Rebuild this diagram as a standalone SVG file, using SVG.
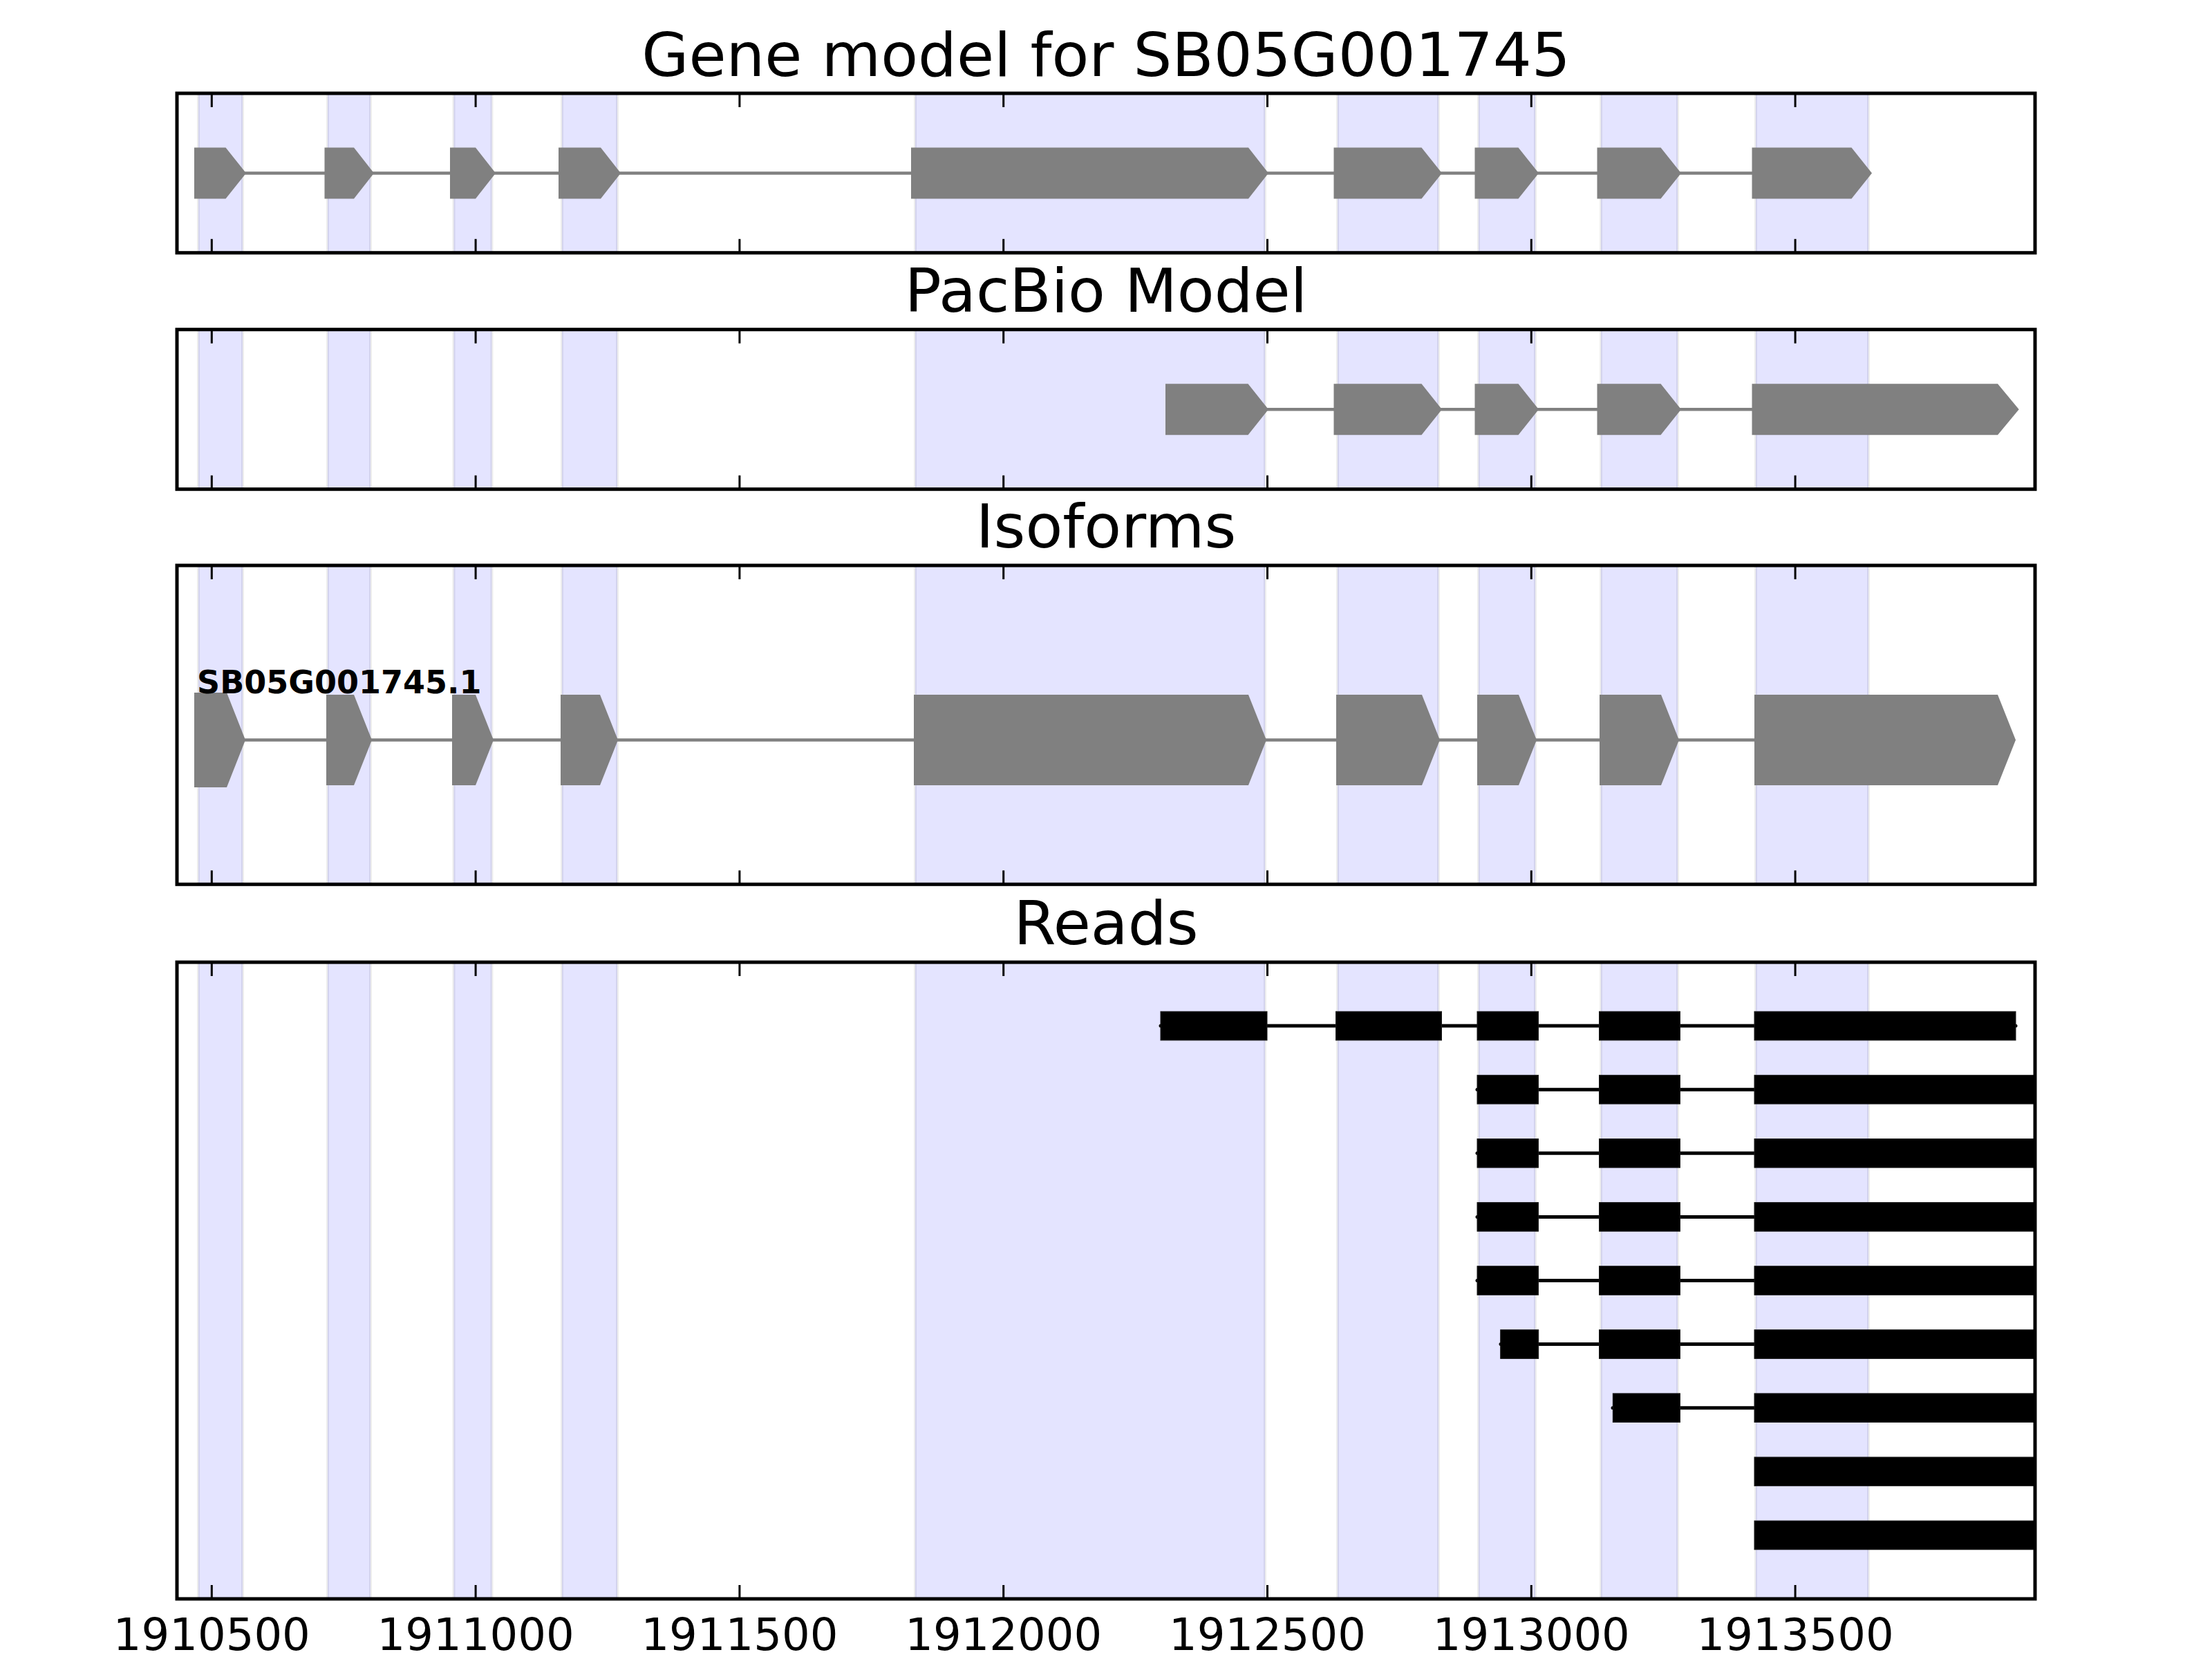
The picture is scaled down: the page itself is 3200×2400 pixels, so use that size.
<svg xmlns="http://www.w3.org/2000/svg" width="3200" height="2400" viewBox="0 0 3200 2400">
<style>
.title{font-family:"DejaVu Sans","Liberation Sans",sans-serif;font-size:88px;text-anchor:middle;fill:#000}
.tick{font-family:"DejaVu Sans","Liberation Sans",sans-serif;font-size:64px;text-anchor:middle;fill:#000}
.lab{font-family:"DejaVu Sans","Liberation Sans",sans-serif;font-size:46px;font-weight:bold;fill:#000}
.band{fill:#0000ff;fill-opacity:0.105;stroke:#000;stroke-opacity:0.07;stroke-width:4}
.exon{fill:#808080;stroke:none}
.intron{stroke:#808080;stroke-width:4.5;fill:none}
.rexon{fill:#000;stroke:#1a1a1a;stroke-width:1}
.rintron{stroke:#000;stroke-width:5;fill:none;stroke-linecap:round}
.frame{fill:none;stroke:#000;stroke-width:5}
.ticks{stroke:#000;stroke-width:3;fill:none}
</style>
<defs>
<clipPath id="clip4"><rect x="256" y="1392" width="2688" height="921"/></clipPath>
</defs>
<rect x="0" y="0" width="3200" height="2400" fill="#fff"/>

<g id="panel1">
<text class="title" x="1600" y="110">Gene model for SB05G001745</text>
<g id="bands1">
<rect class="band" x="287" y="135" width="64" height="230.7"/>
<rect class="band" x="474" y="135" width="62" height="230.7"/>
<rect class="band" x="656.5" y="135" width="55" height="230.7"/>
<rect class="band" x="813" y="135" width="80" height="230.7"/>
<rect class="band" x="1324" y="135" width="506" height="230.7"/>
<rect class="band" x="1935" y="135" width="146" height="230.7"/>
<rect class="band" x="2139" y="135" width="82" height="230.7"/>
<rect class="band" x="2316" y="135" width="111" height="230.7"/>
<rect class="band" x="2540" y="135" width="163" height="230.7"/>
</g>
<g id="connectors1"><line class="intron" x1="300" y1="250.5" x2="2560" y2="250.5"/></g>
<g id="exons1">
<polygon class="exon" points="281,213.5 326.5,213.5 356,250.5 326.5,287.5 281,287.5"/>
<polygon class="exon" points="469.5,213.5 512,213.5 541,250.5 512,287.5 469.5,287.5"/>
<polygon class="exon" points="651,213.5 688,213.5 717,250.5 688,287.5 651,287.5"/>
<polygon class="exon" points="808,213.5 869,213.5 898,250.5 869,287.5 808,287.5"/>
<polygon class="exon" points="1318,213.5 1806,213.5 1835,250.5 1806,287.5 1318,287.5"/>
<polygon class="exon" points="1929.5,213.5 2056.5,213.5 2086,250.5 2056.5,287.5 1929.5,287.5"/>
<polygon class="exon" points="2133.5,213.5 2196.5,213.5 2226,250.5 2196.5,287.5 2133.5,287.5"/>
<polygon class="exon" points="2310.5,213.5 2402.5,213.5 2432,250.5 2402.5,287.5 2310.5,287.5"/>
<polygon class="exon" points="2534.5,213.5 2678.5,213.5 2708,250.5 2678.5,287.5 2534.5,287.5"/>
</g>
<path class="ticks" d="M306.3,135v20M688.1,135v20M1069.9,135v20M1451.7,135v20M1833.5,135v20M2215.3,135v20M2597.1,135v20M306.3,365.7v-20M688.1,365.7v-20M1069.9,365.7v-20M1451.7,365.7v-20M1833.5,365.7v-20M2215.3,365.7v-20M2597.1,365.7v-20"/>
<rect class="frame" x="256" y="135" width="2688" height="230.7"/>
</g>

<g id="panel2">
<text class="title" x="1600" y="451">PacBio Model</text>
<g id="bands2">
<rect class="band" x="287" y="476.7" width="64" height="231"/>
<rect class="band" x="474" y="476.7" width="62" height="231"/>
<rect class="band" x="656.5" y="476.7" width="55" height="231"/>
<rect class="band" x="813" y="476.7" width="80" height="231"/>
<rect class="band" x="1324" y="476.7" width="506" height="231"/>
<rect class="band" x="1935" y="476.7" width="146" height="231"/>
<rect class="band" x="2139" y="476.7" width="82" height="231"/>
<rect class="band" x="2316" y="476.7" width="111" height="231"/>
<rect class="band" x="2540" y="476.7" width="163" height="231"/>
</g>
<g id="connectors2"><line class="intron" x1="1700" y1="592.3" x2="2560" y2="592.3"/></g>
<g id="exons2">
<polygon class="exon" points="1686,555.3 1805.5,555.3 1835,592.3 1805.5,629.3 1686,629.3"/>
<polygon class="exon" points="1929.5,555.3 2056.5,555.3 2086,592.3 2056.5,629.3 1929.5,629.3"/>
<polygon class="exon" points="2133.5,555.3 2196.5,555.3 2226,592.3 2196.5,629.3 2133.5,629.3"/>
<polygon class="exon" points="2310.5,555.3 2402.5,555.3 2432,592.3 2402.5,629.3 2310.5,629.3"/>
<polygon class="exon" points="2534.5,555.3 2890,555.3 2920.7,592.3 2890,629.3 2534.5,629.3"/>
</g>
<path class="ticks" d="M306.3,476.7v20M688.1,476.7v20M1069.9,476.7v20M1451.7,476.7v20M1833.5,476.7v20M2215.3,476.7v20M2597.1,476.7v20M306.3,707.7v-20M688.1,707.7v-20M1069.9,707.7v-20M1451.7,707.7v-20M1833.5,707.7v-20M2215.3,707.7v-20M2597.1,707.7v-20"/>
<rect class="frame" x="256" y="476.7" width="2688" height="231"/>
</g>

<g id="panel3">
<text class="title" x="1600" y="792">Isoforms</text>
<g id="bands3">
<rect class="band" x="287" y="818" width="64" height="461.3"/>
<rect class="band" x="474" y="818" width="62" height="461.3"/>
<rect class="band" x="656.5" y="818" width="55" height="461.3"/>
<rect class="band" x="813" y="818" width="80" height="461.3"/>
<rect class="band" x="1324" y="818" width="506" height="461.3"/>
<rect class="band" x="1935" y="818" width="146" height="461.3"/>
<rect class="band" x="2139" y="818" width="82" height="461.3"/>
<rect class="band" x="2316" y="818" width="111" height="461.3"/>
<rect class="band" x="2540" y="818" width="163" height="461.3"/>
</g>
<g id="connectors3"><line class="intron" x1="300" y1="1070.5" x2="2560" y2="1070.5"/></g>
<g id="exons3">
<polygon class="exon" points="281,1002 328,1002 355,1070.5 328,1139 281,1139"/>
<polygon class="exon" points="472,1005 512,1005 538,1070.5 512,1136 472,1136"/>
<polygon class="exon" points="654,1005 688,1005 714,1070.5 688,1136 654,1136"/>
<polygon class="exon" points="811,1005 868,1005 894,1070.5 868,1136 811,1136"/>
<polygon class="exon" points="1322,1005 1806,1005 1832,1070.5 1806,1136 1322,1136"/>
<polygon class="exon" points="1933,1005 2057,1005 2083,1070.5 2057,1136 1933,1136"/>
<polygon class="exon" points="2137,1005 2197,1005 2223,1070.5 2197,1136 2137,1136"/>
<polygon class="exon" points="2314,1005 2403,1005 2429,1070.5 2403,1136 2314,1136"/>
<polygon class="exon" points="2538,1005 2890,1005 2916,1070.5 2890,1136 2538,1136"/>
</g>
<text class="lab" x="285" y="1003">SB05G001745.1</text>
<path class="ticks" d="M306.3,818v20M688.1,818v20M1069.9,818v20M1451.7,818v20M1833.5,818v20M2215.3,818v20M2597.1,818v20M306.3,1279.3v-20M688.1,1279.3v-20M1069.9,1279.3v-20M1451.7,1279.3v-20M1833.5,1279.3v-20M2215.3,1279.3v-20M2597.1,1279.3v-20"/>
<rect class="frame" x="256" y="818" width="2688" height="461.3"/>
</g>

<g id="panel4">
<text class="title" x="1600" y="1366">Reads</text>
<g id="bands4">
<rect class="band" x="287" y="1392" width="64" height="921"/>
<rect class="band" x="474" y="1392" width="62" height="921"/>
<rect class="band" x="656.5" y="1392" width="55" height="921"/>
<rect class="band" x="813" y="1392" width="80" height="921"/>
<rect class="band" x="1324" y="1392" width="506" height="921"/>
<rect class="band" x="1935" y="1392" width="146" height="921"/>
<rect class="band" x="2139" y="1392" width="82" height="921"/>
<rect class="band" x="2316" y="1392" width="111" height="921"/>
<rect class="band" x="2540" y="1392" width="163" height="921"/>
</g>
<g id="reads" clip-path="url(#clip4)">
<g id="connectors4">
<line class="rintron" x1="1679" y1="1484.1" x2="2916" y2="1484.1"/>
<line class="rintron" x1="2137" y1="1576.2" x2="2960" y2="1576.2"/>
<line class="rintron" x1="2137" y1="1668.3" x2="2960" y2="1668.3"/>
<line class="rintron" x1="2137" y1="1760.4" x2="2960" y2="1760.4"/>
<line class="rintron" x1="2137" y1="1852.5" x2="2960" y2="1852.5"/>
<line class="rintron" x1="2171" y1="1944.6" x2="2960" y2="1944.6"/>
<line class="rintron" x1="2333" y1="2036.7" x2="2960" y2="2036.7"/>
</g>
<g id="read1">
<rect class="rexon" x="1679" y="1463.3" width="154" height="41.6"/>
<rect class="rexon" x="1932.5" y="1463.3" width="153" height="41.6"/>
<rect class="rexon" x="2137" y="1463.3" width="88.5" height="41.6"/>
<rect class="rexon" x="2313.5" y="1463.3" width="117" height="41.6"/>
<rect class="rexon" x="2538" y="1463.3" width="378" height="41.6"/>
</g>
<g id="read2">
<rect class="rexon" x="2137" y="1555.4" width="88.5" height="41.6"/>
<rect class="rexon" x="2313.5" y="1555.4" width="117" height="41.6"/>
<rect class="rexon" x="2538" y="1555.4" width="420" height="41.6"/>
</g>
<g id="read3">
<rect class="rexon" x="2137" y="1647.5" width="88.5" height="41.6"/>
<rect class="rexon" x="2313.5" y="1647.5" width="117" height="41.6"/>
<rect class="rexon" x="2538" y="1647.5" width="420" height="41.6"/>
</g>
<g id="read4">
<rect class="rexon" x="2137" y="1739.6" width="88.5" height="41.6"/>
<rect class="rexon" x="2313.5" y="1739.6" width="117" height="41.6"/>
<rect class="rexon" x="2538" y="1739.6" width="420" height="41.6"/>
</g>
<g id="read5">
<rect class="rexon" x="2137" y="1831.7" width="88.5" height="41.6"/>
<rect class="rexon" x="2313.5" y="1831.7" width="117" height="41.6"/>
<rect class="rexon" x="2538" y="1831.7" width="420" height="41.6"/>
</g>
<g id="read6">
<rect class="rexon" x="2170.7" y="1923.8" width="55" height="41.6"/>
<rect class="rexon" x="2313.5" y="1923.8" width="117" height="41.6"/>
<rect class="rexon" x="2538" y="1923.8" width="420" height="41.6"/>
</g>
<g id="read7">
<rect class="rexon" x="2333.3" y="2015.9" width="97.2" height="41.6"/>
<rect class="rexon" x="2538" y="2015.9" width="420" height="41.6"/>
</g>
<g id="read8">
<rect class="rexon" x="2538" y="2108" width="420" height="41.6"/>
</g>
<g id="read9">
<rect class="rexon" x="2538" y="2200.1" width="420" height="41.6"/>
</g>
</g>
<path class="ticks" d="M306.3,1392v20M688.1,1392v20M1069.9,1392v20M1451.7,1392v20M1833.5,1392v20M2215.3,1392v20M2597.1,1392v20M306.3,2313v-20M688.1,2313v-20M1069.9,2313v-20M1451.7,2313v-20M1833.5,2313v-20M2215.3,2313v-20M2597.1,2313v-20"/>
<rect class="frame" x="256" y="1392" width="2688" height="921"/>
<g id="xlabels">
<text class="tick" x="306.3" y="2387">1910500</text>
<text class="tick" x="688.1" y="2387">1911000</text>
<text class="tick" x="1069.9" y="2387">1911500</text>
<text class="tick" x="1451.7" y="2387">1912000</text>
<text class="tick" x="1833.5" y="2387">1912500</text>
<text class="tick" x="2215.3" y="2387">1913000</text>
<text class="tick" x="2597.1" y="2387">1913500</text>
</g>
</g>
</svg>
